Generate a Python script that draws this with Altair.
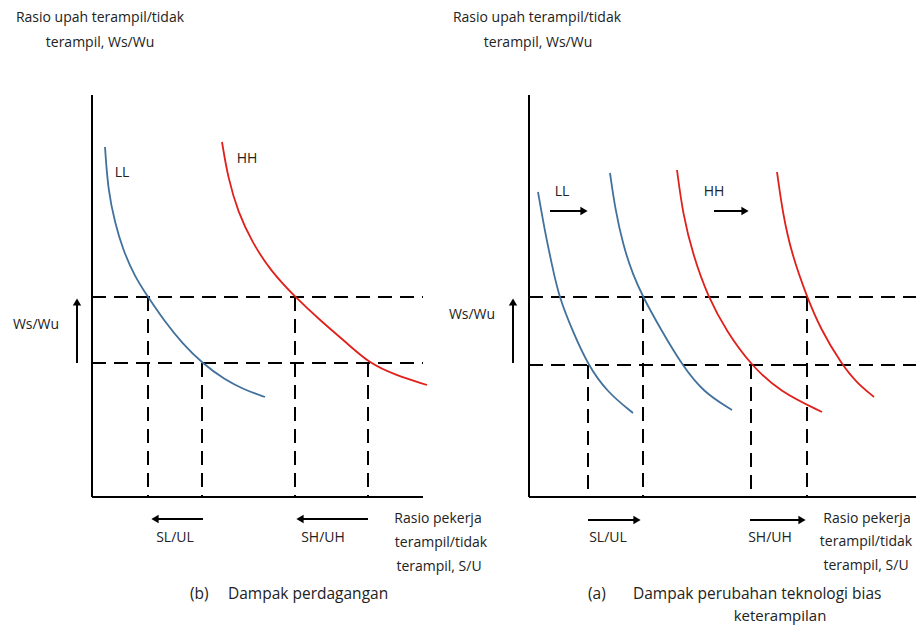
import altair as alt
import pandas as pd

# ---------------- data (diagram coordinates, y grows downward) ----------------
# Left panel (b) curves
LL_B_X = [105, 108, 115, 123, 135, 148, 165, 182, 202, 225, 245, 265]
LL_B_Y = [147, 190, 223, 250, 277, 297, 322, 343, 363, 380, 390, 397]
HH_B_X = [222, 228, 238, 252, 270, 295, 322, 348, 369, 395, 427]
HH_B_Y = [142, 178, 212, 242, 270, 297, 322, 344, 363, 375, 385]
# Right panel (a) curves
LL1_X = [538, 545, 552, 559, 573, 588, 607, 633]
LL1_Y = [192, 232, 265, 297, 332, 365, 392, 413]
LL2_X = [610, 615, 623, 633, 643, 660, 682, 703, 732]
LL2_Y = [173, 208, 245, 275, 297, 328, 365, 392, 410]
HH1_X = [677, 683, 693, 708, 727, 751, 780, 822]
HH1_Y = [170, 215, 255, 297, 332, 365, 392, 412]
HH2_X = [777, 783, 792, 807, 820, 842, 857, 874]
HH2_Y = [172, 215, 255, 297, 328, 365, 383, 397]

CURVE_NAMES = ["LL_b", "HH_b", "LL1_a", "LL2_a", "HH1_a", "HH2_a"]
CURVE_XS = [LL_B_X, HH_B_X, LL1_X, LL2_X, HH1_X, HH2_X]
CURVE_YS = [LL_B_Y, HH_B_Y, LL1_Y, LL2_Y, HH1_Y, HH2_Y]
CURVE_COLORS = ["#41719c", "#e0201b", "#41719c", "#41719c", "#e0201b", "#e0201b"]

# Axes (solid lines): x, y, x2, y2
AXES_X = [92, 92, 529, 529]
AXES_Y = [95, 497, 95, 497]
AXES_X2 = [92, 423, 529, 918]
AXES_Y2 = [497, 497, 497, 497]

# Dashed guide lines
DASH_X = [92, 92, 148, 202, 295, 368, 529, 529, 588, 643, 751, 807]
DASH_Y = [297, 363, 297, 363, 297, 363, 297, 365, 365, 297, 365, 297]
DASH_X2 = [423, 423, 148, 202, 295, 368, 918, 918, 588, 643, 751, 807]
DASH_Y2 = [297, 363, 497, 497, 497, 497, 297, 365, 497, 497, 497, 497]

# Arrows: tail -> tip
ARROW_X = [77, 513, 203, 368, 588, 750, 550, 714]
ARROW_Y = [363, 363, 519, 519, 520, 520, 211, 211]
ARROW_TX = [77, 513, 150, 295, 642, 807, 589, 750]
ARROW_TY = [297, 297, 519, 519, 520, 520, 211, 211]
ARROW_SHAPE = ["triangle-up", "triangle-up", "triangle-left", "triangle-left",
               "triangle-right", "triangle-right", "triangle-right", "triangle-right"]

# Texts
TXT = ["Rasio upah terampil/tidak", "terampil, Ws/Wu",
       "Rasio upah terampil/tidak", "terampil, Ws/Wu",
       "LL", "HH", "LL", "HH",
       "Ws/Wu", "Ws/Wu",
       "SL/UL", "SH/UH", "SL/UL", "SH/UH",
       "Rasio pekerja", "terampil/tidak", "terampil, S/U",
       "Rasio pekerja", "terampil/tidak", "terampil, S/U"]
TXT_X = [100, 100, 537, 538, 122, 247, 562, 714, 36, 472,
         175, 323, 608, 770, 438, 441, 439, 867, 866, 866]
TXT_Y = [18, 43, 18, 43, 173, 159, 192, 192, 325, 315,
         538, 538, 538, 538, 519, 543, 567, 519, 542, 566]

CAP = ["(b)", "Dampak perdagangan", "(a)", "Dampak perubahan teknologi bias", "keterampilan"]
CAP_X = [190, 228, 588, 633, 780]
CAP_Y = [594, 594, 594, 594, 616]
CAP_ALIGN = ["left", "left", "left", "left", "center"]

# ---------------- tables ----------------
rows = []
for n, xs_, ys_, c in zip(CURVE_NAMES, CURVE_XS, CURVE_YS, CURVE_COLORS):
    for i, (x, y) in enumerate(zip(xs_, ys_)):
        rows.append({"curve": n, "x": x, "y": y, "color": c, "i": i})
curves = pd.DataFrame(rows)
axes = pd.DataFrame({"x": AXES_X, "y": AXES_Y, "x2": AXES_X2, "y2": AXES_Y2})
dashes = pd.DataFrame({"x": DASH_X, "y": DASH_Y, "x2": DASH_X2, "y2": DASH_Y2})

shaft_rows, head_rows = [], []
for x, y, tx, ty, s in zip(ARROW_X, ARROW_Y, ARROW_TX, ARROW_TY, ARROW_SHAPE):
    dx = (tx > x) - (tx < x)
    dy = (ty > y) - (ty < y)
    shaft_rows.append({"x": x, "y": y, "x2": tx - 4 * dx, "y2": ty - 4 * dy})
    head_rows.append({"x": tx - 5 * dx, "y": ty - 5 * dy, "shape": s})
shafts = pd.DataFrame(shaft_rows)
heads = pd.DataFrame(head_rows)
texts = pd.DataFrame({"t": TXT, "x": TXT_X, "y": TXT_Y})
caps = pd.DataFrame({"t": CAP, "x": CAP_X, "y": CAP_Y, "a": CAP_ALIGN})

W, H = 908, 619
xs = alt.Scale(domain=[8, 8 + W], nice=False, zero=False)
ys = alt.Scale(domain=[8, 8 + H], nice=False, zero=False, reverse=True)
X = lambda f="x": alt.X(f"{f}:Q", scale=xs, axis=None)
Y = lambda f="y": alt.Y(f"{f}:Q", scale=ys, axis=None)

FONT = "Open Sans"

curve_layer = alt.Chart(curves).mark_line(strokeWidth=1.8, interpolate="basis").encode(
    x=X(), y=Y(), detail="curve:N", order="i:Q",
    color=alt.Color("color:N", scale=None))
axes_layer = alt.Chart(axes).mark_rule(strokeWidth=2, color="black").encode(
    x=X(), y=Y(), x2="x2:Q", y2="y2:Q")
dash_layer = alt.Chart(dashes).mark_rule(strokeWidth=2, color="black", strokeDash=[14, 8]).encode(
    x=X(), y=Y(), x2="x2:Q", y2="y2:Q")
shaft_layer = alt.Chart(shafts).mark_rule(strokeWidth=2, color="black").encode(
    x=X(), y=Y(), x2="x2:Q", y2="y2:Q")
head_layer = alt.Chart(heads).mark_point(filled=True, size=70, color="black", opacity=1).encode(
    x=X(), y=Y(), shape=alt.Shape("shape:N", scale=None))
text_layer = alt.Chart(texts).mark_text(font=FONT, fontSize=14, color="#222", baseline="middle",
                                        align="center").encode(x=X(), y=Y(), text="t:N")
cap_left = alt.Chart(caps[caps.a == "left"]).mark_text(font=FONT, fontSize=15.5, color="#222",
                                                       baseline="middle", align="left").encode(
    x=X(), y=Y(), text="t:N")
cap_center = alt.Chart(caps[caps.a == "center"]).mark_text(font=FONT, fontSize=15, color="#222",
                                                           baseline="middle", align="center").encode(
    x=X(), y=Y(), text="t:N")

chart = alt.layer(dash_layer, axes_layer, curve_layer, shaft_layer, head_layer,
                  text_layer, cap_left, cap_center).properties(
    width=W, height=H, autosize=alt.AutoSizeParams(type="none"), padding=0
).configure_view(stroke=None)

chart.save("out.html", embed_options={"renderer": "svg", "actions": False})
